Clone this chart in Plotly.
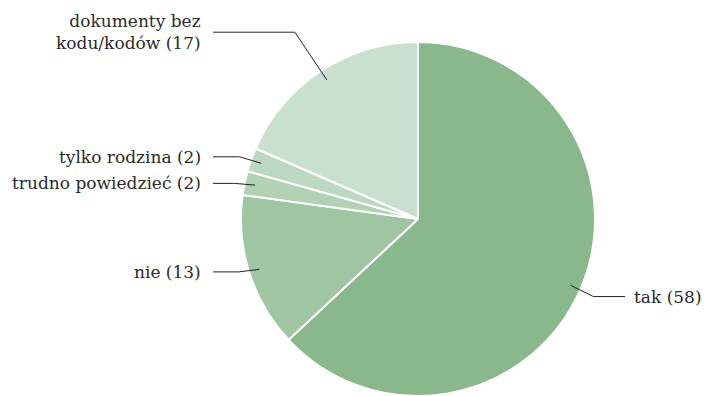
import math
import plotly.graph_objects as go

labels = ["tak", "nie", "trudno powiedzieć", "tylko rodzina", "dokumenty bez<br>kodu/kodów"]
values = [58, 13, 2, 2, 17]
colors = ["#89b88d", "#9fc5a2", "#b1d0b4", "#bdd8c0", "#c9dfcf"]

W, H = 705, 396
CX, CY, R = 418, 219, 177

fig = go.Figure(go.Pie(
    labels=labels, values=values, sort=False, direction="clockwise", rotation=0,
    marker=dict(colors=colors, line=dict(color="white", width=2)),
    textinfo="none", hoverinfo="label+value",
    domain=dict(x=[(CX - R) / W, (CX + R) / W], y=[(H - CY - R) / H, (H - CY + R) / H]),
    showlegend=False,
))

def px(x):
    return x / W

def py(y):
    return 1 - y / H

# label vertical tweaks (layout only)
nudge = {0: 0, 1: -6, 2: 4, 3: 3, 4: -24}

total = sum(values)
cum = 0
shapes, annos = [], []
for i, (lab, v) in enumerate(zip(labels, values)):
    mid = (cum + v / 2) / total * 2 * math.pi
    cum += v
    s, c = math.sin(mid), math.cos(mid)
    pxp, pyp = CX + 0.94 * R * s, CY - 0.94 * R * c
    ly = CY - 1.1 * R * c + nudge[i]
    side = 1 if s > 0 else -1
    ex = pxp + side * (20 + 0.25 * abs(ly - pyp))
    if side > 0:
        tx, lx = CX + R + 37, CX + R + 30
        anchor = "left"
    else:
        tx, lx = CX - R - 38, CX - R - 28
        anchor = "right"
    shapes.append(dict(type="path", xref="paper", yref="paper",
                       path=f"M {px(lx)} {py(ly)} L {px(ex)} {py(ly)} L {px(pxp)} {py(pyp)}",
                       line=dict(color="#222222", width=1)))
    annos.append(dict(x=px(tx), y=py(ly), xref="paper", yref="paper", xanchor=anchor,
                      yanchor="middle", align="right" if side < 0 else "left",
                      text=f"{lab} ({v})", showarrow=False,
                      font=dict(family="DejaVu Serif", size=17, color="#2a2a2a")))

fig.update_layout(width=W, height=H, margin=dict(l=0, r=0, t=0, b=0),
                  paper_bgcolor="white", plot_bgcolor="white",
                  shapes=shapes, annotations=annos)
fig.write_html("out.html")
